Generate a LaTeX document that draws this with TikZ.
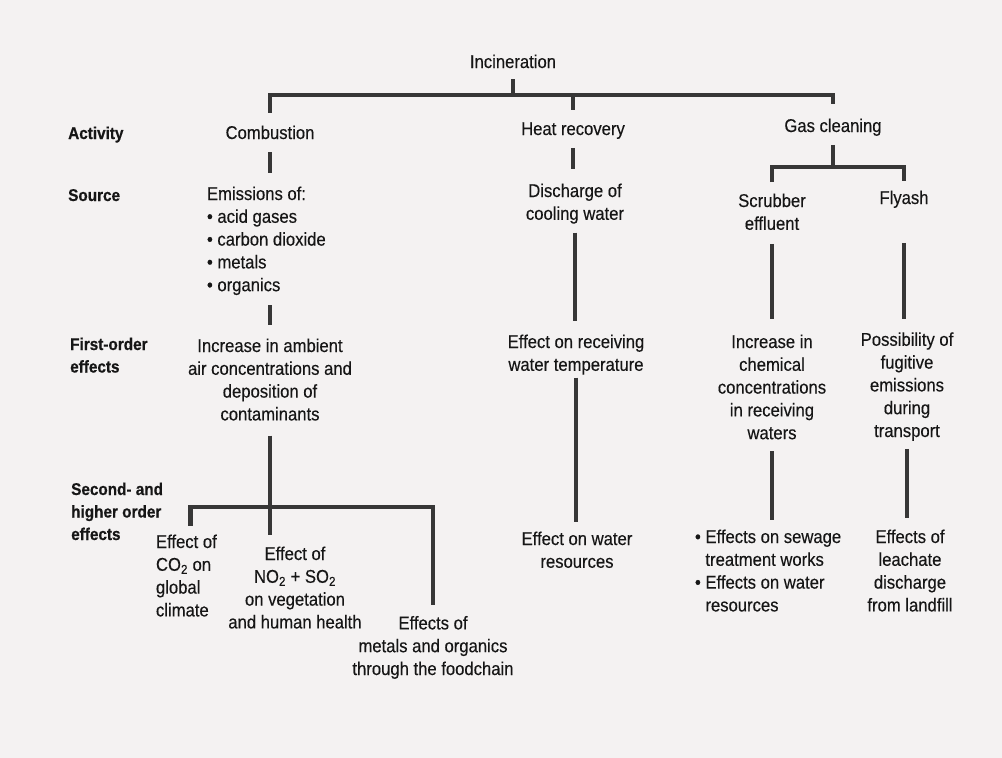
\documentclass[tikz,border=0pt]{standalone}
\usepackage{fontspec}
\setmainfont{Liberation Sans}[FakeStretch=0.9, UprightFeatures={FakeBold=0.3}, BoldFeatures={FakeBold=0.6}]
\usepackage{tikz}
\definecolor{page_gray}	{RGB}{244,242,242}
\definecolor{line_gray}	{RGB}{55,55,55}
\definecolor{ink_black}	{RGB}{22,22,22}

\begin{document}
\begin{tikzpicture}[x = 1pt, y = -1pt,
		stepText/.style = {inner sep = 0,
			outer sep      = 0,
			text           = ink_black,
			align          = center,
			anchor         = base,
			font           = \fontsize{18.5}{22.8}\selectfont},
		listText/.style = {stepText,
			align          = left,
			anchor         = base west},
		rowLabel/.style = {inner sep = 0,
			text           = ink_black,
			align          = left,
			anchor         = base west,
			font           = \fontsize{17}{22.5}\selectfont\bfseries},
		stub/.style     = {draw = line_gray,
			line width     = 4.5pt}]
	
	\fill[page_gray] (0,0) rectangle (1002,758);
	\useasboundingbox (0,0) rectangle (1002,758);
	
	% row labels (placed at the baseline of the last line)
	\node[rowLabel] (lact)    at (68,139)   {Activity};
	\node[rowLabel] (lsrc)    at (68,201)   {Source};
	\node[rowLabel] (lfirst)  at (70,372.5) {First-order\\effects};
	\node[rowLabel] (lsecond) at (71,540)   {Second- and\\higher order\\effects};
	
	% activity
	\node[stepText] (incin)   at (513,68)  {Incineration};
	\node[stepText] (combust) at (270,139) {Combustion};
	\node[stepText] (heat)    at (573,135) {Heat recovery};
	\node[stepText] (gascl)   at (833,132) {Gas cleaning};
	
	% source
	\node[listText] (emis)    at (207,291.2)
	{Emissions of:\\• acid gases\\• carbon dioxide\\• metals\\• organics};
	\node[stepText] (disch)   at (575,219.8) {Discharge of\\cooling water};
	\node[stepText] (scrub)   at (772,229.8) {Scrubber\\effluent};
	\node[stepText] (flyash)  at (904,204)   {Flyash};
	
	% first-order effects
	\node[stepText] (ambient) at (270,420.4)
	{Increase in ambient\\air concentrations and\\deposition of\\contaminants};
	\node[stepText] (watertemp) at (576,370.8) {Effect on receiving\\water temperature};
	\node[stepText] (chemconc) at (772,439.2)
	{Increase in\\chemical\\concentrations\\in receiving\\waters};
	\node[stepText] (fugitive) at (907,437)
	{Possibility of\\fugitive\\emissions\\during\\transport};
	
	% second- and higher order effects
	\node[listText] (co2)     at (156,616.4) {Effect of\\CO\textsubscript{2} on\\global\\climate};
	\node[stepText] (noso)    at (295,628.4)
	{Effect of\\NO\textsubscript{2} + SO\textsubscript{2}\\on vegetation\\and human health};
	\node[stepText] (metals)  at (433,675)
	{Effects of\\metals and organics\\through the foodchain};
	\node[stepText] (waterres) at (577,567.8) {Effect on water\\resources};
	\node[listText] (sewage)  at (695,611.4)
	{• Effects on sewage\\\phantom{• }treatment works\\• Effects on water\\\phantom{• }resources};
	\node[stepText] (leach)   at (910,611.4) {Effects of\\leachate\\discharge\\from landfill};
	
	\coordinate (topbar) at (0,95);
	\coordinate (gasbar) at (0,167);
	\coordinate (effbar) at (0,507);
	
	% top level
	\draw[stub, shorten <=11pt] (incin.south) -- (incin.south |- topbar);
	\draw[stub, shorten <=13pt, shorten >=14.5pt] (combust.north) |- (gascl.north |- topbar) -- (gascl.north);
	\draw[stub, shorten >=12.5pt] (heat.north |- topbar) -- (heat.north);
	
	% combustion branch
	\draw[stub, shorten <=13pt, shorten >=14pt] (combust.south) -- (combust.south |- emis.north);
	\draw[stub, shorten <=10pt, shorten >=14pt] (combust.south |- emis.south) -- (combust.south |- ambient.north);
	\draw[stub, shorten <=15pt, shorten >=12pt] (ambient.south) -- (ambient.south |- noso.north);
	\draw[stub, shorten <=9pt, shorten >=11pt] ([xshift=4pt]co2.north) |- (metals.north |- effbar) -- (metals.north);
	
	% heat recovery branch
	\draw[stub, shorten <=9pt, shorten >=15pt] (heat.south) -- (heat.south |- disch.north);
	\draw[stub, shorten <=9pt, shorten >=14pt] (disch.south) -- (disch.south |- watertemp.north);
	\draw[stub, shorten <=3pt, shorten >=9.5pt] (watertemp.south) -- (watertemp.south |- waterres.north);
	
	% gas cleaning branch
	\draw[stub, shorten <=9pt] (gascl.south) -- (gascl.south |- gasbar);
	\draw[stub, shorten <=11.5pt, shorten >=10pt] (scrub.north) |- (flyash.north |- gasbar) -- (flyash.north);
	\draw[stub, shorten <=14pt, shorten >=15.5pt] (scrub.south) -- (scrub.south |- chemconc.north);
	\draw[stub, shorten <=35pt, shorten >=13.5pt] (flyash.south) -- (flyash.south |- fugitive.north);
	\draw[stub, shorten <=12pt, shorten >=9.5pt] (chemconc.south) -- (chemconc.south |- sewage.north);
	\draw[stub, shorten <=8pt, shorten >=11.5pt] (fugitive.south) -- (fugitive.south |- leach.north);
	
\end{tikzpicture}
\end{document}
